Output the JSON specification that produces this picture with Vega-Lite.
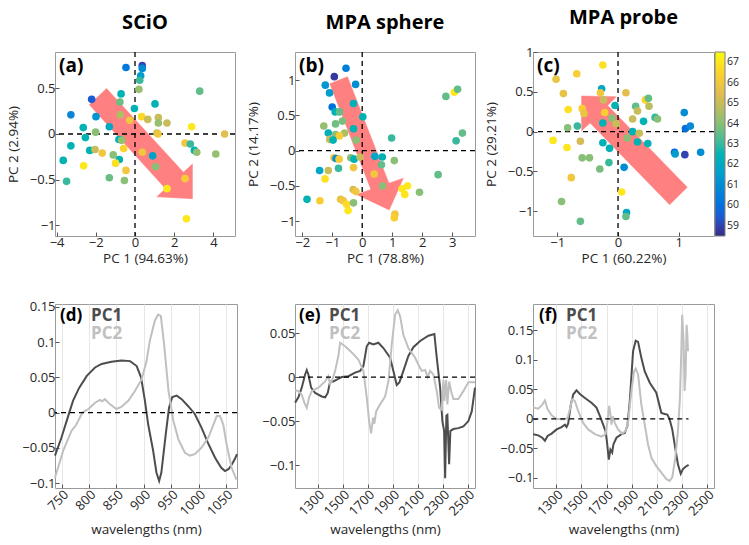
{
  "$schema": "https://vega.github.io/schema/vega-lite/v6.json",
  "background": "white",
  "padding": {"left": 5, "top": 7, "right": 5, "bottom": 5},
  "config": {
    "font": "Open Sans",
    "view": {"stroke": "#9a9a9a", "strokeWidth": 1},
    "axis": {"domain": false, "grid": false, "tickColor": "#555555", "tickSize": -4, "tickCount": 20, "labelPadding": 4, "labelFontSize": 13, "labelColor": "#262626", "titleFontSize": 13.5, "titleFontWeight": "normal", "titleColor": "#262626", "format": "~r", "labelOverlap": false, "labelBound": false},
    "axisY": {"titlePadding": 9},
    "title": {"fontSize": 20, "fontWeight": "bold", "color": "#000000", "offset": 18},
    "legend": {"labelFont": "Open Sans"}
  },
  "datasets": {
    "ptsA": [
      {"x": -0.46, "y": 0.73, "t": 60.3}, {"x": 0.37, "y": 0.75, "t": 59}, {"x": 0.37, "y": 0.72, "t": 61}, {"x": 0.29, "y": 0.64, "t": 61.5},
      {"x": 0.24, "y": 0.59, "t": 63}, {"x": 0.2, "y": 0.49, "t": 64.2}, {"x": 3.3, "y": 0.47, "t": 63.5}, {"x": -2.21, "y": 0.38, "t": 59.5},
      {"x": -0.71, "y": 0.44, "t": 62.5}, {"x": -0.77, "y": 0.35, "t": 63.6}, {"x": 1.02, "y": 0.33, "t": 62.5}, {"x": -0.03, "y": 0.28, "t": 62.5},
      {"x": -3.27, "y": 0.21, "t": 60.7}, {"x": -1.99, "y": 0.19, "t": 61.2}, {"x": -0.75, "y": 0.21, "t": 64.6}, {"x": -0.27, "y": 0.15, "t": 66},
      {"x": 0.34, "y": 0.19, "t": 66.6}, {"x": 0.65, "y": 0.16, "t": 65}, {"x": 1.19, "y": 0.18, "t": 65}, {"x": 1.19, "y": 0.12, "t": 64.2},
      {"x": 1.63, "y": 0.12, "t": 65}, {"x": 2.89, "y": 0.08, "t": 67}, {"x": -2.64, "y": 0.07, "t": 62.5}, {"x": -1.31, "y": 0.08, "t": 62},
      {"x": -2.01, "y": 0.02, "t": 64}, {"x": -2.53, "y": -0.04, "t": 62.5}, {"x": 1.12, "y": 0.01, "t": 65}, {"x": 1.17, "y": 0.0, "t": 66},
      {"x": 4.57, "y": 0.0, "t": 65.5}, {"x": -0.71, "y": -0.06, "t": 63.6}, {"x": -0.82, "y": -0.06, "t": 62.5}, {"x": -0.68, "y": -0.07, "t": 64.2},
      {"x": -3.27, "y": -0.13, "t": 62.5}, {"x": 2.55, "y": -0.1, "t": 66}, {"x": 2.82, "y": -0.11, "t": 63}, {"x": -0.58, "y": -0.16, "t": 66.5},
      {"x": -2.31, "y": -0.18, "t": 62.5}, {"x": -2.04, "y": -0.17, "t": 65}, {"x": -1.67, "y": -0.21, "t": 66}, {"x": 0.37, "y": -0.2, "t": 66},
      {"x": 3.03, "y": -0.18, "t": 62.5}, {"x": 3.15, "y": -0.2, "t": 64.2}, {"x": -1.11, "y": -0.23, "t": 64}, {"x": -0.8, "y": -0.28, "t": 62.5},
      {"x": 0.9, "y": -0.24, "t": 61.7}, {"x": 4.12, "y": -0.22, "t": 64.2}, {"x": -3.66, "y": -0.29, "t": 62.5}, {"x": -2.62, "y": -0.35, "t": 67},
      {"x": -0.99, "y": -0.32, "t": 66.8}, {"x": 1.05, "y": -0.36, "t": 64}, {"x": -0.46, "y": -0.4, "t": 66}, {"x": -1.31, "y": -0.48, "t": 63.6},
      {"x": -0.54, "y": -0.51, "t": 64}, {"x": -3.49, "y": -0.52, "t": 63}, {"x": 2.55, "y": -0.49, "t": 66.2}, {"x": 1.63, "y": -0.6, "t": 67},
      {"x": 2.62, "y": -0.93, "t": 67}
    ],
    "ptsB": [
      {"x": -0.54, "y": 1.17, "t": 60.5}, {"x": -0.93, "y": 1.05, "t": 58.8}, {"x": -1.23, "y": 0.93, "t": 61.3}, {"x": -0.22, "y": 0.94, "t": 61},
      {"x": -1.09, "y": 0.82, "t": 61.5}, {"x": -1.0, "y": 0.62, "t": 60}, {"x": -0.29, "y": 0.67, "t": 62.3}, {"x": -0.9, "y": 0.55, "t": 62.5},
      {"x": -0.76, "y": 0.55, "t": 63.5}, {"x": 0.02, "y": 0.48, "t": 62.5}, {"x": -0.66, "y": 0.42, "t": 63.8}, {"x": -1.28, "y": 0.35, "t": 64.2},
      {"x": -0.89, "y": 0.38, "t": 63.7}, {"x": -0.29, "y": 0.31, "t": 62.5}, {"x": -0.59, "y": 0.25, "t": 64.5}, {"x": -1.13, "y": 0.25, "t": 62.3},
      {"x": -0.89, "y": 0.23, "t": 64}, {"x": -0.76, "y": 0.21, "t": 66.3}, {"x": -1.08, "y": 0.16, "t": 65}, {"x": -0.97, "y": 0.15, "t": 62.5},
      {"x": -0.2, "y": 0.15, "t": 64}, {"x": 0.98, "y": 0.18, "t": 63}, {"x": 2.79, "y": 0.77, "t": 63.5}, {"x": 3.07, "y": 0.83, "t": 67},
      {"x": 3.18, "y": 0.87, "t": 63.5}, {"x": 3.34, "y": 0.25, "t": 63.5}, {"x": 3.13, "y": 0.14, "t": 63}, {"x": -0.94, "y": -0.1, "t": 65.7},
      {"x": -0.87, "y": -0.11, "t": 61}, {"x": -0.77, "y": -0.12, "t": 66.2}, {"x": -0.38, "y": -0.1, "t": 64}, {"x": -0.27, "y": -0.12, "t": 62.5},
      {"x": -0.07, "y": -0.09, "t": 65}, {"x": 0.42, "y": -0.08, "t": 61.8}, {"x": 0.67, "y": -0.09, "t": 62.5}, {"x": 1.07, "y": -0.14, "t": 64},
      {"x": 0.64, "y": -0.2, "t": 63.5}, {"x": -0.79, "y": -0.25, "t": 63}, {"x": -1.42, "y": -0.28, "t": 61.8}, {"x": -1.13, "y": -0.28, "t": 65},
      {"x": -0.29, "y": -0.24, "t": 66}, {"x": -1.24, "y": -0.4, "t": 66.8}, {"x": 0.4, "y": -0.33, "t": 66}, {"x": 2.53, "y": -0.34, "t": 63.5},
      {"x": 0.68, "y": -0.5, "t": 64}, {"x": -0.3, "y": -0.55, "t": 65.3}, {"x": -0.21, "y": -0.58, "t": 66}, {"x": 1.33, "y": -0.54, "t": 67},
      {"x": 1.51, "y": -0.5, "t": 67}, {"x": 1.42, "y": -0.62, "t": 66.9}, {"x": 1.91, "y": -0.59, "t": 64}, {"x": -1.84, "y": -0.69, "t": 62.5},
      {"x": -1.41, "y": -0.71, "t": 66.3}, {"x": -0.72, "y": -0.69, "t": 65.8}, {"x": -0.63, "y": -0.71, "t": 66}, {"x": -0.52, "y": -0.76, "t": 66.7},
      {"x": -0.29, "y": -0.74, "t": 64}, {"x": -0.47, "y": -0.85, "t": 67}, {"x": 1.09, "y": -0.9, "t": 66}, {"x": 1.07, "y": -0.95, "t": 66.3}
    ],
    "ptsC": [
      {"x": -0.25, "y": 0.84, "t": 66.8}, {"x": -1.02, "y": 0.66, "t": 65.8}, {"x": -0.68, "y": 0.73, "t": 66.3}, {"x": -0.9, "y": 0.48, "t": 65.7},
      {"x": -0.27, "y": 0.54, "t": 61.8}, {"x": -0.29, "y": 0.49, "t": 66}, {"x": 0.13, "y": 0.49, "t": 65.5}, {"x": -0.24, "y": 0.4, "t": 65},
      {"x": -0.05, "y": 0.33, "t": 62.5}, {"x": -0.82, "y": 0.28, "t": 66.8}, {"x": -0.59, "y": 0.29, "t": 66.3}, {"x": -0.56, "y": 0.23, "t": 65.8},
      {"x": -0.22, "y": 0.24, "t": 66.3}, {"x": 0.29, "y": 0.32, "t": 63.5}, {"x": 0.45, "y": 0.4, "t": 66.5}, {"x": 0.5, "y": 0.42, "t": 63.5},
      {"x": 0.32, "y": 0.26, "t": 65}, {"x": 0.51, "y": 0.32, "t": 64.8}, {"x": 0.24, "y": 0.16, "t": 65}, {"x": 0.42, "y": 0.13, "t": 62.5},
      {"x": 0.61, "y": 0.18, "t": 63}, {"x": 0.65, "y": 0.16, "t": 64}, {"x": 1.09, "y": 0.24, "t": 61}, {"x": -0.25, "y": 0.11, "t": 62.5},
      {"x": -0.1, "y": 0.17, "t": 64}, {"x": -0.03, "y": 0.1, "t": 65}, {"x": -0.83, "y": 0.05, "t": 64}, {"x": -0.67, "y": 0.07, "t": 63},
      {"x": 0.24, "y": 0.0, "t": 62.5}, {"x": 0.35, "y": -0.02, "t": 65}, {"x": 0.15, "y": -0.08, "t": 64}, {"x": 0.32, "y": -0.13, "t": 62.5},
      {"x": 0.49, "y": -0.15, "t": 62.5}, {"x": 1.11, "y": 0.04, "t": 60}, {"x": 1.19, "y": 0.07, "t": 60.8}, {"x": -1.07, "y": -0.11, "t": 67},
      {"x": -0.62, "y": -0.12, "t": 65.2}, {"x": -0.25, "y": -0.14, "t": 62.5}, {"x": -0.14, "y": -0.21, "t": 62.5}, {"x": -0.84, "y": -0.2, "t": 67},
      {"x": 0.93, "y": -0.26, "t": 59.8}, {"x": 0.94, "y": -0.28, "t": 61.5}, {"x": 1.1, "y": -0.29, "t": 59}, {"x": 1.36, "y": -0.26, "t": 61},
      {"x": -0.59, "y": -0.33, "t": 64}, {"x": -0.47, "y": -0.33, "t": 64}, {"x": -0.15, "y": -0.39, "t": 63}, {"x": -0.3, "y": -0.47, "t": 63.8},
      {"x": 0.1, "y": -0.45, "t": 61}, {"x": -0.77, "y": -0.58, "t": 66}, {"x": 0.06, "y": -0.76, "t": 67}, {"x": -0.93, "y": -0.88, "t": 64},
      {"x": 0.14, "y": -1.02, "t": 61.8}, {"x": 0.13, "y": -1.07, "t": 63.5}, {"x": -0.62, "y": -1.13, "t": 63.5}
    ],
    "arrA": [
      {"x": -2.33, "y": 0.32, "o": 1}, {"x": -1.45, "y": 0.5, "o": 2}, {"x": 2.47, "y": -0.42, "o": 3}, {"x": 2.93, "y": -0.33, "o": 4},
      {"x": 2.93, "y": -0.71, "o": 5}, {"x": 1.11, "y": -0.69, "o": 6}, {"x": 1.56, "y": -0.6, "o": 7}, {"x": -2.33, "y": 0.32, "o": 8}
    ],
    "arrB": [
      {"x": -1.08, "y": 0.95, "o": 1}, {"x": -0.49, "y": 1.05, "o": 2}, {"x": 0.89, "y": -0.46, "o": 3}, {"x": 1.37, "y": -0.39, "o": 4},
      {"x": 0.9, "y": -0.84, "o": 5}, {"x": -0.19, "y": -0.62, "o": 6}, {"x": 0.29, "y": -0.55, "o": 7}, {"x": -1.08, "y": 0.95, "o": 8}
    ],
    "arrC": [
      {"x": 0.85, "y": -0.92, "o": 1}, {"x": 1.14, "y": -0.7, "o": 2}, {"x": -0.17, "y": 0.33, "o": 3}, {"x": -0.03, "y": 0.44, "o": 4},
      {"x": -0.6, "y": 0.45, "o": 5}, {"x": -0.6, "y": 0.01, "o": 6}, {"x": -0.46, "y": 0.11, "o": 7}, {"x": 0.85, "y": -0.92, "o": 8}
    ],
    "d1": [
      {"w": 738, "v": -0.061}, {"w": 750, "v": -0.035}, {"w": 762, "v": -0.005}, {"w": 771, "v": 0.017}, {"w": 782, "v": 0.035},
      {"w": 796, "v": 0.052}, {"w": 811, "v": 0.064}, {"w": 823, "v": 0.069}, {"w": 841, "v": 0.072}, {"w": 859, "v": 0.074},
      {"w": 875, "v": 0.073}, {"w": 887, "v": 0.066}, {"w": 895, "v": 0.05}, {"w": 902, "v": 0.017}, {"w": 908, "v": -0.017},
      {"w": 917, "v": -0.054}, {"w": 923, "v": -0.085}, {"w": 928, "v": -0.097}, {"w": 932, "v": -0.085}, {"w": 940, "v": -0.031},
      {"w": 946, "v": 0.007}, {"w": 952, "v": 0.022}, {"w": 960, "v": 0.024}, {"w": 969, "v": 0.019}, {"w": 981, "v": 0.009},
      {"w": 993, "v": -0.002}, {"w": 1005, "v": -0.021}, {"w": 1017, "v": -0.043}, {"w": 1030, "v": -0.064}, {"w": 1041, "v": -0.078},
      {"w": 1048, "v": -0.083}, {"w": 1055, "v": -0.08}, {"w": 1061, "v": -0.073}, {"w": 1066, "v": -0.066}, {"w": 1070, "v": -0.059}
    ],
    "d2": [
      {"w": 738, "v": -0.092}, {"w": 753, "v": -0.054}, {"w": 768, "v": -0.026}, {"w": 777, "v": -0.017}, {"w": 788, "v": 0.0},
      {"w": 799, "v": 0.005}, {"w": 811, "v": 0.014}, {"w": 820, "v": 0.018}, {"w": 824, "v": 0.016}, {"w": 829, "v": 0.019},
      {"w": 838, "v": 0.012}, {"w": 850, "v": 0.005}, {"w": 859, "v": 0.008}, {"w": 872, "v": 0.017}, {"w": 884, "v": 0.031},
      {"w": 896, "v": 0.047}, {"w": 905, "v": 0.073}, {"w": 911, "v": 0.102}, {"w": 920, "v": 0.13}, {"w": 926, "v": 0.139},
      {"w": 931, "v": 0.137}, {"w": 937, "v": 0.097}, {"w": 945, "v": 0.031}, {"w": 954, "v": -0.012}, {"w": 963, "v": -0.038},
      {"w": 975, "v": -0.057}, {"w": 984, "v": -0.061}, {"w": 993, "v": -0.059}, {"w": 1005, "v": -0.05}, {"w": 1018, "v": -0.035},
      {"w": 1027, "v": -0.017}, {"w": 1033, "v": -0.005}, {"w": 1039, "v": -0.005}, {"w": 1045, "v": -0.017}, {"w": 1051, "v": -0.045},
      {"w": 1060, "v": -0.078}, {"w": 1069, "v": -0.095}
    ],
    "e1": [
      {"w": 1119, "v": -0.029}, {"w": 1145, "v": -0.023}, {"w": 1172, "v": -0.012}, {"w": 1199, "v": 0.003}, {"w": 1212, "v": 0.008},
      {"w": 1225, "v": 0.003}, {"w": 1247, "v": -0.012}, {"w": 1279, "v": -0.018}, {"w": 1332, "v": -0.022}, {"w": 1359, "v": -0.023},
      {"w": 1380, "v": -0.018}, {"w": 1399, "v": -0.005}, {"w": 1425, "v": -0.005}, {"w": 1452, "v": -0.003}, {"w": 1492, "v": 0.0},
      {"w": 1545, "v": 0.001}, {"w": 1599, "v": 0.005}, {"w": 1639, "v": 0.007}, {"w": 1665, "v": 0.0125}, {"w": 1692, "v": 0.035},
      {"w": 1711, "v": 0.039}, {"w": 1745, "v": 0.037}, {"w": 1785, "v": 0.039}, {"w": 1825, "v": 0.033}, {"w": 1879, "v": 0.022},
      {"w": 1905, "v": 0.007}, {"w": 1932, "v": -0.009}, {"w": 1953, "v": -0.006}, {"w": 1985, "v": 0.007}, {"w": 2025, "v": 0.024},
      {"w": 2065, "v": 0.034}, {"w": 2119, "v": 0.041}, {"w": 2185, "v": 0.047}, {"w": 2233, "v": 0.049}, {"w": 2252, "v": 0.022},
      {"w": 2279, "v": -0.012}, {"w": 2297, "v": -0.05}, {"w": 2311, "v": -0.061}, {"w": 2319, "v": -0.115}, {"w": 2329, "v": -0.044},
      {"w": 2337, "v": -0.043}, {"w": 2351, "v": -0.099}, {"w": 2361, "v": -0.061}, {"w": 2385, "v": -0.059}, {"w": 2425, "v": -0.058},
      {"w": 2465, "v": -0.056}, {"w": 2505, "v": -0.05}, {"w": 2532, "v": -0.039}, {"w": 2558, "v": -0.012}
    ],
    "e2": [
      {"w": 1119, "v": -0.015}, {"w": 1145, "v": -0.016}, {"w": 1172, "v": -0.02}, {"w": 1193, "v": -0.029}, {"w": 1212, "v": -0.035},
      {"w": 1231, "v": -0.023}, {"w": 1252, "v": -0.016}, {"w": 1305, "v": -0.012}, {"w": 1359, "v": -0.005}, {"w": 1385, "v": 0.001},
      {"w": 1399, "v": -0.008}, {"w": 1417, "v": -0.003}, {"w": 1439, "v": 0.007}, {"w": 1465, "v": 0.024}, {"w": 1479, "v": 0.039},
      {"w": 1519, "v": 0.035}, {"w": 1572, "v": 0.028}, {"w": 1625, "v": 0.02}, {"w": 1665, "v": 0.007}, {"w": 1692, "v": -0.023},
      {"w": 1711, "v": -0.05}, {"w": 1727, "v": -0.064}, {"w": 1743, "v": -0.046}, {"w": 1753, "v": -0.053}, {"w": 1767, "v": -0.039},
      {"w": 1799, "v": -0.031}, {"w": 1839, "v": -0.022}, {"w": 1865, "v": -0.005}, {"w": 1892, "v": 0.037}, {"w": 1919, "v": 0.071},
      {"w": 1940, "v": 0.076}, {"w": 1959, "v": 0.069}, {"w": 1985, "v": 0.048}, {"w": 2025, "v": 0.033}, {"w": 2079, "v": 0.022},
      {"w": 2111, "v": 0.0125}, {"w": 2132, "v": 0.007}, {"w": 2159, "v": 0.008}, {"w": 2180, "v": 0.0}, {"w": 2199, "v": 0.007},
      {"w": 2225, "v": 0.003}, {"w": 2252, "v": -0.016}, {"w": 2271, "v": -0.035}, {"w": 2292, "v": -0.037}, {"w": 2305, "v": -0.003},
      {"w": 2313, "v": -0.027}, {"w": 2327, "v": -0.003}, {"w": 2337, "v": -0.031}, {"w": 2351, "v": -0.005}, {"w": 2367, "v": -0.016},
      {"w": 2385, "v": -0.025}, {"w": 2425, "v": -0.025}, {"w": 2465, "v": -0.016}, {"w": 2505, "v": -0.006}, {"w": 2558, "v": -0.006}
    ],
    "f1": [
      {"w": 1117, "v": -0.026}, {"w": 1157, "v": -0.028}, {"w": 1189, "v": -0.032}, {"w": 1210, "v": -0.037}, {"w": 1231, "v": -0.029},
      {"w": 1263, "v": -0.025}, {"w": 1303, "v": -0.018}, {"w": 1342, "v": -0.014}, {"w": 1369, "v": -0.01}, {"w": 1382, "v": -0.014},
      {"w": 1395, "v": -0.008}, {"w": 1416, "v": 0.024}, {"w": 1435, "v": 0.041}, {"w": 1461, "v": 0.048}, {"w": 1488, "v": 0.042},
      {"w": 1528, "v": 0.035}, {"w": 1580, "v": 0.027}, {"w": 1620, "v": 0.019}, {"w": 1647, "v": 0.005}, {"w": 1673, "v": -0.01},
      {"w": 1692, "v": -0.021}, {"w": 1703, "v": -0.038}, {"w": 1718, "v": -0.069}, {"w": 1731, "v": -0.052}, {"w": 1745, "v": -0.057},
      {"w": 1755, "v": -0.043}, {"w": 1779, "v": -0.032}, {"w": 1819, "v": -0.026}, {"w": 1845, "v": -0.024}, {"w": 1866, "v": -0.012},
      {"w": 1885, "v": 0.03}, {"w": 1911, "v": 0.114}, {"w": 1932, "v": 0.132}, {"w": 1951, "v": 0.13}, {"w": 1977, "v": 0.103},
      {"w": 2004, "v": 0.08}, {"w": 2044, "v": 0.061}, {"w": 2096, "v": 0.044}, {"w": 2136, "v": 0.01}, {"w": 2163, "v": 0.008},
      {"w": 2184, "v": 0.007}, {"w": 2202, "v": -0.001}, {"w": 2223, "v": -0.018}, {"w": 2242, "v": -0.043}, {"w": 2268, "v": -0.077},
      {"w": 2290, "v": -0.093}, {"w": 2308, "v": -0.085}, {"w": 2329, "v": -0.081}, {"w": 2353, "v": -0.078}
    ],
    "f2": [
      {"w": 1117, "v": 0.019}, {"w": 1157, "v": 0.017}, {"w": 1189, "v": 0.024}, {"w": 1210, "v": 0.031}, {"w": 1231, "v": 0.016},
      {"w": 1263, "v": 0.006}, {"w": 1303, "v": 0.0}, {"w": 1356, "v": -0.001}, {"w": 1390, "v": 0.001}, {"w": 1408, "v": 0.016},
      {"w": 1427, "v": 0.033}, {"w": 1448, "v": 0.03}, {"w": 1475, "v": 0.013}, {"w": 1514, "v": -0.007}, {"w": 1554, "v": -0.018},
      {"w": 1607, "v": -0.026}, {"w": 1660, "v": -0.03}, {"w": 1692, "v": -0.026}, {"w": 1708, "v": -0.004}, {"w": 1721, "v": 0.022},
      {"w": 1731, "v": 0.007}, {"w": 1739, "v": -0.01}, {"w": 1750, "v": 0.004}, {"w": 1766, "v": -0.007}, {"w": 1792, "v": -0.018},
      {"w": 1824, "v": -0.025}, {"w": 1850, "v": -0.021}, {"w": 1871, "v": -0.007}, {"w": 1898, "v": 0.047}, {"w": 1919, "v": 0.08},
      {"w": 1932, "v": 0.085}, {"w": 1951, "v": 0.075}, {"w": 1977, "v": 0.024}, {"w": 2004, "v": -0.01}, {"w": 2030, "v": -0.043},
      {"w": 2057, "v": -0.066}, {"w": 2096, "v": -0.08}, {"w": 2136, "v": -0.091}, {"w": 2176, "v": -0.102}, {"w": 2202, "v": -0.105},
      {"w": 2223, "v": -0.099}, {"w": 2247, "v": -0.066}, {"w": 2268, "v": -0.021}, {"w": 2284, "v": 0.035}, {"w": 2295, "v": 0.114},
      {"w": 2302, "v": 0.176}, {"w": 2313, "v": 0.131}, {"w": 2321, "v": 0.047}, {"w": 2329, "v": 0.075}, {"w": 2337, "v": 0.159},
      {"w": 2343, "v": 0.142}, {"w": 2348, "v": 0.114}
    ]
  },
  "resolve": {"scale": {"color": "shared"}},
  "columns": 3,
  "spacing": {"row": 68, "column": 58},
  "bounds": "flush",
  "concat": [
    {
      "width": 180, "height": 184,
      "title": "SCiO",
      "layer": [
        {"data": {"name": "arrA"}, "mark": {"type": "line", "fill": "#ff8080", "stroke": "#ff8080", "strokeWidth": 0.5},
         "encoding": {
           "x": {"field": "x", "type": "quantitative", "scale": {"domain": [-4.08, 5.1], "nice": false, "zero": false}, "axis": {"values": [-4, -2, 0, 2, 4], "tickCount": 20, "labelOverlap": false, "title": "PC 1 (94.63%)", "titlePadding": 2}},
           "y": {"field": "y", "type": "quantitative", "scale": {"domain": [-1.12, 0.9], "nice": false, "zero": false}, "axis": {"values": [-1, -0.5, 0, 0.5], "tickCount": 20, "labelOverlap": false, "title": "PC 2 (2.94%)"}},
           "order": {"field": "o"}}},
        {"data": {"values": [{}]}, "mark": {"type": "rule", "strokeDash": [5, 4], "color": "#000000", "strokeWidth": 1.3}, "encoding": {"x": {"datum": 0}}},
        {"data": {"values": [{}]}, "mark": {"type": "rule", "strokeDash": [5, 4], "color": "#000000", "strokeWidth": 1.3}, "encoding": {"y": {"datum": 0}}},
        {"data": {"name": "ptsA"}, "mark": {"type": "circle", "size": 58, "opacity": 1},
         "encoding": {"x": {"field": "x", "type": "quantitative"}, "y": {"field": "y", "type": "quantitative"},
           "color": {"field": "t", "type": "quantitative", "scale": {"domain": [58.5, 67.5], "range": ["#352a87", "#0363e1", "#1485d4", "#06a7c6", "#38b99e", "#92bf73", "#d9ba56", "#fcce2e", "#f9fb0e"]},
             "legend": {"title": null, "orient": "right", "offset": -2, "gradientLength": 184, "gradientThickness": 10, "values": [59, 60, 61, 62, 63, 64, 65, 66, 67], "tickCount": 20, "labelFontSize": 10.5, "labelColor": "#262626", "gradientStrokeColor": "#808080", "gradientStrokeWidth": 1, "format": "~r", "labelOverlap": false}}}},
        {"data": {"values": [{}]}, "mark": {"type": "text", "text": "(a)", "align": "left", "baseline": "top", "dx": 4, "dy": 5, "fontSize": 19, "fontWeight": "bold", "color": "#000000"},
         "encoding": {"x": {"datum": -4.08}, "y": {"datum": 0.9}}}
      ]
    },
    {
      "width": 180, "height": 184,
      "title": "MPA sphere",
      "layer": [
        {"data": {"name": "arrB"}, "mark": {"type": "line", "fill": "#ff8080", "stroke": "#ff8080", "strokeWidth": 0.5},
         "encoding": {
           "x": {"field": "x", "type": "quantitative", "scale": {"domain": [-2.24, 3.76], "nice": false, "zero": false}, "axis": {"values": [-2, -1, 0, 1, 2, 3], "tickCount": 20, "labelOverlap": false, "title": "PC 1 (78.8%)", "titlePadding": 2}},
           "y": {"field": "y", "type": "quantitative", "scale": {"domain": [-1.21, 1.4], "nice": false, "zero": false}, "axis": {"values": [-1, -0.5, 0, 0.5, 1], "tickCount": 20, "labelOverlap": false, "title": "PC 2 (14.17%)"}},
           "order": {"field": "o"}}},
        {"data": {"values": [{}]}, "mark": {"type": "rule", "strokeDash": [5, 4], "color": "#000000", "strokeWidth": 1.3}, "encoding": {"x": {"datum": 0}}},
        {"data": {"values": [{}]}, "mark": {"type": "rule", "strokeDash": [5, 4], "color": "#000000", "strokeWidth": 1.3}, "encoding": {"y": {"datum": 0}}},
        {"data": {"name": "ptsB"}, "mark": {"type": "circle", "size": 58, "opacity": 1},
         "encoding": {"x": {"field": "x", "type": "quantitative"}, "y": {"field": "y", "type": "quantitative"},
           "color": {"field": "t", "type": "quantitative"}}},
        {"data": {"values": [{}]}, "mark": {"type": "text", "text": "(b)", "align": "left", "baseline": "top", "dx": 4, "dy": 5, "fontSize": 19, "fontWeight": "bold", "color": "#000000"},
         "encoding": {"x": {"datum": -2.24}, "y": {"datum": 1.4}}}
      ]
    },
    {
      "width": 181, "height": 184,
      "title": "MPA probe",
      "layer": [
        {"data": {"name": "arrC"}, "mark": {"type": "line", "fill": "#ff8080", "stroke": "#ff8080", "strokeWidth": 0.5},
         "encoding": {
           "x": {"field": "x", "type": "quantitative", "scale": {"domain": [-1.4, 1.58], "nice": false, "zero": false}, "axis": {"values": [-1, 0, 1], "tickCount": 20, "labelOverlap": false, "title": "PC 1 (60.22%)", "titlePadding": 2}},
           "y": {"field": "y", "type": "quantitative", "scale": {"domain": [-1.315, 1.004], "nice": false, "zero": false}, "axis": {"values": [-1, -0.5, 0, 0.5, 1], "tickCount": 20, "labelOverlap": false, "title": "PC 2 (29.21%)"}},
           "order": {"field": "o"}}},
        {"data": {"values": [{}]}, "mark": {"type": "rule", "strokeDash": [5, 4], "color": "#000000", "strokeWidth": 1.3}, "encoding": {"x": {"datum": 0}}},
        {"data": {"values": [{}]}, "mark": {"type": "rule", "strokeDash": [5, 4], "color": "#000000", "strokeWidth": 1.3}, "encoding": {"y": {"datum": 0}}},
        {"data": {"name": "ptsC"}, "mark": {"type": "circle", "size": 58, "opacity": 1},
         "encoding": {"x": {"field": "x", "type": "quantitative"}, "y": {"field": "y", "type": "quantitative"},
           "color": {"field": "t", "type": "quantitative"}}},
        {"data": {"values": [{}]}, "mark": {"type": "text", "text": "(c)", "align": "left", "baseline": "top", "dx": 4, "dy": 5, "fontSize": 19, "fontWeight": "bold", "color": "#000000"},
         "encoding": {"x": {"datum": -1.4}, "y": {"datum": 1.004}}}
      ]
    },
    {
      "width": 182, "height": 184,
      "layer": [
        {"data": {"name": "d1"}, "mark": {"type": "line", "color": "#4d4d4d", "strokeWidth": 2},
         "encoding": {
           "x": {"field": "w", "type": "quantitative", "scale": {"domain": [738, 1070], "nice": false, "zero": false}, "axis": {"values": [750, 800, 850, 900, 950, 1000, 1050], "tickCount": 20, "labelOverlap": false, "format": "d", "title": "wavelengths (nm)", "labelAngle": -45, "grid": true, "gridColor": "#e6e6e6"}},
           "y": {"field": "v", "type": "quantitative", "scale": {"domain": [-0.107, 0.154], "nice": false, "zero": false}, "axis": {"values": [-0.1, -0.05, 0, 0.05, 0.1, 0.15], "tickCount": 20, "labelOverlap": false, "title": null}}}},
        {"data": {"name": "d2"}, "mark": {"type": "line", "color": "#c0c0c0", "strokeWidth": 2},
         "encoding": {"x": {"field": "w", "type": "quantitative"}, "y": {"field": "v", "type": "quantitative"}}},
        {"data": {"values": [{}]}, "mark": {"type": "rule", "strokeDash": [5, 4], "color": "#000000", "strokeWidth": 1.3}, "encoding": {"y": {"datum": 0}}},
        {"data": {"values": [{}]}, "mark": {"type": "text", "text": "(d)", "align": "left", "baseline": "top", "dx": 5, "dy": 4, "fontSize": 17, "fontWeight": "bold", "color": "#000000"},
         "encoding": {"x": {"datum": 738}, "y": {"datum": 0.154}}},
        {"data": {"values": [{}]}, "mark": {"type": "text", "text": "PC1", "align": "left", "baseline": "top", "dx": 36, "dy": 4, "fontSize": 17, "fontWeight": "bold", "color": "#4d4d4d"},
         "encoding": {"x": {"datum": 738}, "y": {"datum": 0.154}}},
        {"data": {"values": [{}]}, "mark": {"type": "text", "text": "PC2", "align": "left", "baseline": "top", "dx": 36, "dy": 22, "fontSize": 17, "fontWeight": "bold", "color": "#c0c0c0"},
         "encoding": {"x": {"datum": 738}, "y": {"datum": 0.154}}}
      ]
    },
    {
      "width": 180, "height": 184,
      "layer": [
        {"data": {"name": "e1"}, "mark": {"type": "line", "color": "#4d4d4d", "strokeWidth": 2},
         "encoding": {
           "x": {"field": "w", "type": "quantitative", "scale": {"domain": [1118, 2558], "nice": false, "zero": false}, "axis": {"values": [1300, 1500, 1700, 1900, 2100, 2300, 2500], "tickCount": 20, "labelOverlap": false, "format": "d", "title": "wavelengths (nm)", "labelAngle": -45, "grid": true, "gridColor": "#e6e6e6"}},
           "y": {"field": "v", "type": "quantitative", "scale": {"domain": [-0.126, 0.083], "nice": false, "zero": false}, "axis": {"values": [-0.1, -0.05, 0, 0.05], "tickCount": 20, "labelOverlap": false, "title": null}}}},
        {"data": {"name": "e2"}, "mark": {"type": "line", "color": "#c0c0c0", "strokeWidth": 2},
         "encoding": {"x": {"field": "w", "type": "quantitative"}, "y": {"field": "v", "type": "quantitative"}}},
        {"data": {"values": [{}]}, "mark": {"type": "rule", "strokeDash": [5, 4], "color": "#000000", "strokeWidth": 1.3}, "encoding": {"y": {"datum": 0}}},
        {"data": {"values": [{}]}, "mark": {"type": "text", "text": "(e)", "align": "left", "baseline": "top", "dx": 4, "dy": 4, "fontSize": 17, "fontWeight": "bold", "color": "#000000"},
         "encoding": {"x": {"datum": 1118}, "y": {"datum": 0.083}}},
        {"data": {"values": [{}]}, "mark": {"type": "text", "text": "PC1", "align": "left", "baseline": "top", "dx": 34, "dy": 4, "fontSize": 17, "fontWeight": "bold", "color": "#4d4d4d"},
         "encoding": {"x": {"datum": 1118}, "y": {"datum": 0.083}}},
        {"data": {"values": [{}]}, "mark": {"type": "text", "text": "PC2", "align": "left", "baseline": "top", "dx": 34, "dy": 22, "fontSize": 17, "fontWeight": "bold", "color": "#c0c0c0"},
         "encoding": {"x": {"datum": 1118}, "y": {"datum": 0.083}}}
      ]
    },
    {
      "width": 181, "height": 184,
      "layer": [
        {"data": {"name": "f1"}, "mark": {"type": "line", "color": "#4d4d4d", "strokeWidth": 2},
         "encoding": {
           "x": {"field": "w", "type": "quantitative", "scale": {"domain": [1115, 2555], "nice": false, "zero": false}, "axis": {"values": [1300, 1500, 1700, 1900, 2100, 2300, 2500], "tickCount": 20, "labelOverlap": false, "format": "d", "title": "wavelengths (nm)", "labelAngle": -45, "grid": true, "gridColor": "#e6e6e6"}},
           "y": {"field": "v", "type": "quantitative", "scale": {"domain": [-0.117, 0.194], "nice": false, "zero": false}, "axis": {"values": [-0.1, -0.05, 0, 0.05, 0.1, 0.15], "tickCount": 20, "labelOverlap": false, "title": null}}}},
        {"data": {"name": "f2"}, "mark": {"type": "line", "color": "#c0c0c0", "strokeWidth": 2},
         "encoding": {"x": {"field": "w", "type": "quantitative"}, "y": {"field": "v", "type": "quantitative"}}},
        {"data": {"values": [{}]}, "mark": {"type": "rule", "strokeDash": [5, 4], "color": "#000000", "strokeWidth": 1.3}, "encoding": {"x": {"datum": 1117}, "x2": {"datum": 2352}, "y": {"datum": 0}}},
        {"data": {"values": [{}]}, "mark": {"type": "text", "text": "(f)", "align": "left", "baseline": "top", "dx": 6, "dy": 4, "fontSize": 17, "fontWeight": "bold", "color": "#000000"},
         "encoding": {"x": {"datum": 1115}, "y": {"datum": 0.194}}},
        {"data": {"values": [{}]}, "mark": {"type": "text", "text": "PC1", "align": "left", "baseline": "top", "dx": 33, "dy": 4, "fontSize": 17, "fontWeight": "bold", "color": "#4d4d4d"},
         "encoding": {"x": {"datum": 1115}, "y": {"datum": 0.194}}},
        {"data": {"values": [{}]}, "mark": {"type": "text", "text": "PC2", "align": "left", "baseline": "top", "dx": 33, "dy": 22, "fontSize": 17, "fontWeight": "bold", "color": "#c0c0c0"},
         "encoding": {"x": {"datum": 1115}, "y": {"datum": 0.194}}}
      ]
    }
  ]
}
